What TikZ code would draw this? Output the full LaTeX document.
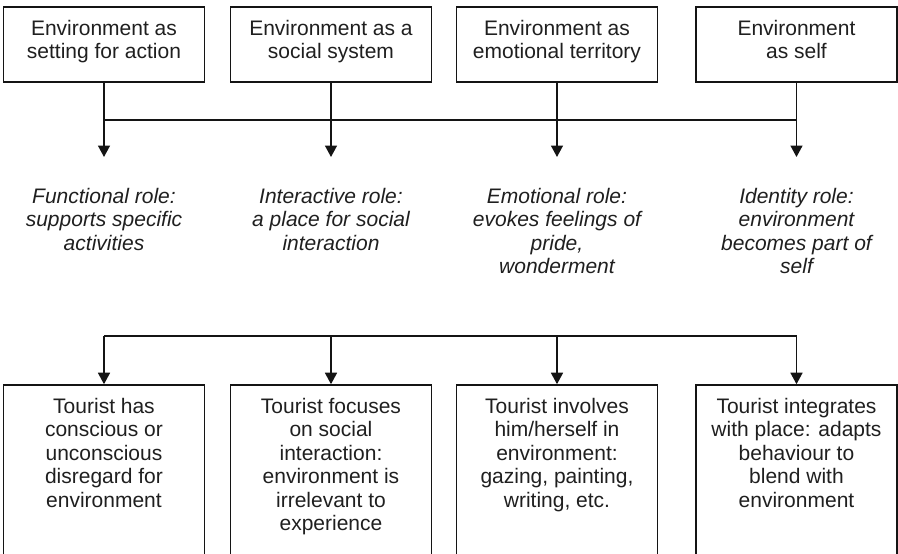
\documentclass[tikz,border=0pt]{standalone}
\usepackage{fontspec}
\setmainfont{Liberation Sans}
\usetikzlibrary{arrows.meta}
\definecolor{inkc}{gray}{0.12}
\definecolor{linec}{gray}{0.08}
\newcommand{\bxtext}[2]{\parbox[c][#1][t]{201pt}{\centering\rule{0pt}{28pt}#2\par}}
\tikzset{
  basefont/.style={font={\fontsize{21}{23.5}\selectfont}, text=inkc},
  envbox/.style={draw=linec, line width=1.6pt, inner sep=0pt, basefont},
  roletext/.style={anchor=north, inner sep=0pt, align=center, basefont, font={\fontsize{21}{23.5}\selectfont\itshape}},
  conn/.style={draw=linec, line width=1.6pt},
  arr/.style={conn, -{Triangle[width=12pt,length=11.5pt]}}
}
\begin{document}
\begin{tikzpicture}[x=1pt,y=-1pt]
\useasboundingbox (0,0) rectangle (898,554);
% top boxes
\node[envbox] (e1) at (104,44.5) {\bxtext{75pt}{Environment as\\setting for action}};
\node[envbox] (e2) at (331,44.5) {\bxtext{75pt}{Environment as a\\social system}};
\node[envbox] (e3) at (557,44.5) {\bxtext{75pt}{Environment as\\emotional territory}};
\node[envbox] (e4) at (796.5,44.5) {\bxtext{75pt}{Environment\\as self}};
% junction line
\coordinate (h1) at (104,120);
\coordinate (h4) at (796.5,120);
\draw[conn] (h1) -- (h4);
% arrow ends
\coordinate (a1) at (104,157);
\coordinate (a2) at (331,157);
\coordinate (a3) at (557,157);
\coordinate (a4) at (796.5,157);
\draw[arr] (e1.south) -- (a1);
\draw[arr] (e2.south) -- (a2);
\draw[arr] (e3.south) -- (a3);
\draw[arr] (e4.south) -- (a4);
% role texts
\node[roletext] (r1) at (104,186) {\rule{0pt}{17pt}Functional role:\\supports specific\\activities};
\node[roletext] (r2) at (331,186) {\rule{0pt}{17pt}Interactive role:\\a place for social\\interaction};
\node[roletext] (r3) at (557,186) {\rule{0pt}{17pt}Emotional role:\\evokes feelings of\\pride,\\wonderment};
\node[roletext] (r4) at (796.5,186) {\rule{0pt}{17pt}Identity role:\\environment\\becomes part of\\self};
% bottom boxes
\node[envbox] (t1) at (104,469.75) {\bxtext{169.5pt}{Tourist has\\conscious or\\unconscious\\disregard for\\environment}};
\node[envbox] (t2) at (331,469.75) {\bxtext{169.5pt}{Tourist focuses\\on social\\interaction:\\environment is\\irrelevant to\\experience}};
\node[envbox] (t3) at (557,469.75) {\bxtext{169.5pt}{Tourist involves\\him/herself in\\environment:\\gazing, painting,\\writing, etc.}};
\node[envbox] (t4) at (796.5,469.75) {\bxtext{169.5pt}{Tourist integrates\\with place: adapts\\behaviour to\\blend with\\environment}};
% bottom distribution bar
\coordinate (b1) at (104,336);
\coordinate (b2) at (331,336);
\coordinate (b3) at (557,336);
\coordinate (b4) at (796.5,336);
\draw[conn] (b1) -- (b4);
\draw[arr] (b1) -- (t1.north);
\draw[arr] (b2) -- (t2.north);
\draw[arr] (b3) -- (t3.north);
\draw[arr] (b4) -- (t4.north);
\end{tikzpicture}
\end{document}
